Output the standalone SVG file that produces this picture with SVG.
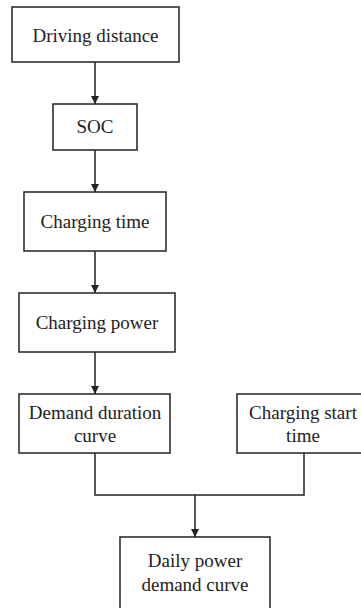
<svg xmlns="http://www.w3.org/2000/svg" width="361" height="608" viewBox="0 0 361 608">
<style>
.box{fill:#fff;stroke:#222;stroke-width:1.5}
.t{font-family:"Liberation Serif","Times New Roman",serif;font-size:19px;fill:#222;text-anchor:middle}
.c{fill:none;stroke:#222;stroke-width:1.5}
</style>
<defs>
<marker id="ah" viewBox="0 0 8 10" refX="8" refY="5" markerWidth="8" markerHeight="10" markerUnits="userSpaceOnUse" orient="auto">
<path d="M0,1 L8,5 L0,9 Z" fill="#222"/>
</marker>
</defs>
<rect width="361" height="608" fill="#fff"/>
<g id="connectors">
<line class="c" x1="95" y1="62" x2="95" y2="104" marker-end="url(#ah)"/>
<line class="c" x1="95" y1="150" x2="95" y2="192" marker-end="url(#ah)"/>
<line class="c" x1="95" y1="251" x2="95" y2="293" marker-end="url(#ah)"/>
<line class="c" x1="95" y1="352" x2="95" y2="394" marker-end="url(#ah)"/>
<polyline class="c" points="95,453 95,495 304,495 304,453"/>
<line class="c" x1="195" y1="495" x2="195" y2="537" marker-end="url(#ah)"/>
</g>
<g id="n1"><rect class="box" x="12" y="7" width="167" height="55"/><text class="t" x="95.5" y="42">Driving distance</text></g>
<g id="n2"><rect class="box" x="53" y="104" width="84" height="46"/><text class="t" x="95" y="133">SOC</text></g>
<g id="n3"><rect class="box" x="24" y="192" width="142" height="59"/><text class="t" x="95" y="228">Charging time</text></g>
<g id="n4"><rect class="box" x="19" y="293" width="156" height="59"/><text class="t" x="97" y="329">Charging power</text></g>
<g id="n5"><rect class="box" x="19" y="394" width="151" height="59"/><text class="t" x="95" y="419">Demand duration</text><text class="t" x="95" y="442">curve</text></g>
<g id="n6"><rect class="box" x="237" y="394" width="132" height="59"/><text class="t" x="303" y="419">Charging start</text><text class="t" x="303" y="442">time</text></g>
<g id="n7"><rect class="box" x="120" y="537" width="150" height="80"/><text class="t" x="195" y="567">Daily power</text><text class="t" x="195" y="591">demand curve</text></g>
</svg>
